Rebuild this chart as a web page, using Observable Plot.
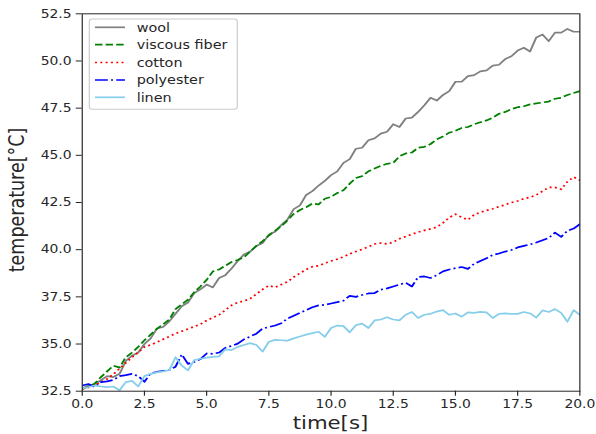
<!DOCTYPE html>
<html><head><meta charset="utf-8">
<script src="https://cdn.jsdelivr.net/npm/d3@7"></script>
<script src="https://cdn.jsdelivr.net/npm/@observablehq/plot@0.6"></script>
<style>html,body{margin:0;padding:0;background:#fff;} #chart{width:596px;height:434px;overflow:hidden}</style>
</head><body><div id="chart"></div>
<script>
// time in seconds
const time = [
 0,0.25,0.5,0.75, 1,1.25,1.5,1.75, 2,2.25,2.5,2.75, 3,3.25,3.5,3.75, 4,4.25,4.5,4.75,
 5,5.25,5.5,5.75, 6,6.25,6.5,6.75, 7,7.25,7.5,7.75, 8,8.25,8.5,8.75, 9,9.25,9.5,9.75,
 10,10.25,10.5,10.75, 11,11.25,11.5,11.75, 12,12.25,12.5,12.75, 13,13.25,13.5,13.75, 14,14.25,14.5,14.75,
 15,15.25,15.5,15.75, 16,16.25,16.5,16.75, 17,17.25,17.5,17.75, 18,18.25,18.5,18.75, 19,19.25,19.5,19.75, 20];

const wool = [
 32.65,32.80,32.88,33.08, 33.30,33.25,33.42,34.10, 34.38,34.55,35.00,35.30, 35.82,35.90,36.20,36.60,
 37.00,37.20,37.70,37.90, 38.15,38.00,38.50,38.65, 39.00,39.40,39.75,39.90, 40.20,40.35,40.80,40.95,
 41.30,41.60,42.15,42.35, 42.90,43.10,43.40,43.65, 43.95,44.15,44.60,44.80, 45.35,45.40,45.80,45.90,
 46.15,46.25,46.65,46.50, 46.95,47.00,47.30,47.65, 48.05,47.90,48.20,48.40, 48.90,48.90,49.20,49.25,
 49.45,49.50,49.75,49.80, 50.10,50.25,50.55,50.70, 50.50,51.25,51.40,51.05, 51.50,51.50,51.70,51.55, 51.55];

const viscousFiber = [
 32.62,32.75,32.90,33.25, 33.55,33.85,33.75,34.30, 34.55,34.85,35.20,35.50, 35.80,36.05,36.30,36.85,
 37.10,37.35,37.75,38.05, 38.40,38.85,38.95,39.15, 39.35,39.45,39.60,39.90, 40.20,40.45,40.75,41.00,
 41.25,41.55,41.90,42.10, 42.25,42.45,42.40,42.70, 42.80,43.00,43.15,43.50, 43.80,43.90,44.15,44.30,
 44.45,44.55,44.60,44.95, 45.10,45.15,45.40,45.45, 45.60,45.85,46.00,46.20, 46.30,46.45,46.50,46.65,
 46.75,46.85,47.00,47.20, 47.30,47.45,47.55,47.60, 47.70,47.75,47.80,47.85, 48.00,48.05,48.20,48.30, 48.40];

const cotton = [
 32.62,32.70,32.80,32.98, 33.15,33.40,33.70,34.00, 34.30,34.55,34.85,34.95, 35.10,35.25,35.40,35.55,
 35.68,35.80,35.92,36.05, 36.25,36.40,36.55,36.80, 37.05,37.20,37.28,37.40, 37.65,37.90,38.10,38.00,
 38.15,38.30,38.55,38.75, 38.95,39.10,39.15,39.28, 39.40,39.50,39.62,39.78, 39.90,40.02,40.15,40.30,
 40.35,40.30,40.40,40.58, 40.70,40.82,40.93,41.02, 41.10,41.20,41.42,41.70, 41.88,41.72,41.58,41.85,
 41.98,42.08,42.17,42.28, 42.38,42.50,42.58,42.70, 42.78,42.90,43.10,43.30, 43.30,43.20,43.60,43.85, 43.68];

const polyester = [
 32.80,32.88,32.72,32.98, 33.02,33.10,33.30,33.35, 33.42,33.30,33.00,33.45, 33.52,33.58,33.62,33.80,
 34.45,33.95,34.05,34.20, 34.50,34.48,34.55,34.80, 34.90,35.02,35.25,35.40, 35.55,35.82,35.90,35.98,
 36.10,36.35,36.50,36.65, 36.80,36.95,37.05,37.08, 37.15,37.22,37.30,37.55, 37.50,37.60,37.68,37.70,
 37.88,37.95,38.05,38.15, 38.25,38.05,38.55,38.58, 38.50,38.65,38.85,38.95, 39.02,39.08,38.98,39.25,
 39.40,39.55,39.72,39.80, 39.90,39.98,40.12,40.20, 40.28,40.38,40.50,40.62, 40.90,40.68,41.00,41.12, 41.35];

const linen = [
 32.65,32.72,32.80,32.75, 32.72,32.75,32.55,32.98, 33.05,32.75,33.30,33.42, 33.50,33.55,33.62,34.30,
 33.85,33.60,34.15,34.22, 34.28,34.32,34.35,34.72, 34.68,34.85,34.95,35.05, 34.95,34.60,35.12,35.22,
 35.20,35.18,35.30,35.40, 35.50,35.58,35.65,35.38, 35.85,35.98,35.95,35.62, 36.00,36.08,35.85,36.25,
 36.30,36.42,36.30,36.25, 36.55,36.70,36.38,36.55, 36.60,36.72,36.80,36.55, 36.62,36.45,36.68,36.65,
 36.70,36.68,36.38,36.60, 36.62,36.60,36.60,36.70, 36.62,36.40,36.78,36.70, 36.85,36.65,36.18,36.80, 36.55];

const seriesNames = ["wool", "viscous fiber", "cotton", "polyester", "linen"];
const seriesValues = [wool, viscousFiber, cotton, polyester, linen];
const seriesColors = ["#808080", "#008000", "#ff0000", "#0000ff", "#87ceeb"];
const seriesDash = [undefined, "6.3,2.7", "1.7,2.8", "10.9,2.7,1.7,2.7", undefined];

const xTicks = [0, 2.5, 5, 7.5, 10, 12.5, 15, 17.5, 20];
const yTicks = [32.5, 35, 37.5, 40, 42.5, 45, 47.5, 50, 52.5];

// The reference image is stretched horizontally; draw in an unstretched frame then stretch.
const S = 1.18;
const W = 596 / S, H = 434;
const L = 69.2, R = 490.9, T0 = 13.3, B0 = 390.7;

const rows = [];
seriesValues.forEach((vals, i) => vals.forEach((v, j) => rows.push({t: time[j], temp: v, s: seriesNames[i]})));

const fmt = d3.format(".1f");
const chart = Plot.plot({
  width: W, height: H,
  marginLeft: L, marginRight: W - R, marginTop: T0, marginBottom: H - B0,
  x: {domain: [0, 20]},
  y: {domain: [32.5, 52.5]},
  style: {fontFamily: "DejaVu Sans", fontSize: "11.8px", color: "#262626", background: "white"},
  marks: [
    ...seriesNames.map((name, i) => Plot.line(rows.filter(d => d.s === name), {
      x: "t", y: "temp", stroke: seriesColors[i], strokeWidth: 1.7,
      strokeDasharray: seriesDash[i], strokeLinecap: "butt", strokeLinejoin: "round"
    })),
    Plot.axisX({ticks: xTicks, tickFormat: fmt, tickSize: 5, tickPadding: 3, label: null}),
    Plot.axisY({ticks: yTicks, tickFormat: fmt, tickSize: 5, tickPadding: 4, label: null}),
    Plot.frame({stroke: "#262626", strokeWidth: 1})
  ]
});

chart.setAttribute("viewBox", `0 0 ${W} ${H}`);
chart.setAttribute("preserveAspectRatio", "none");
chart.setAttribute("width", 596);
chart.setAttribute("height", 434);
chart.style.width = "596px";
chart.style.height = "434px";
chart.style.maxWidth = "none";

const svg = d3.select(chart);
// axis labels
svg.append("text").attr("x", (L + R) / 2).attr("y", 429).attr("text-anchor", "middle")
  .attr("font-family", "DejaVu Sans").attr("font-size", 18).attr("fill", "#262626").text("time[s]");
svg.append("text").attr("transform", `translate(20,200) rotate(-90)`).attr("text-anchor", "middle")
  .attr("font-family", "DejaVu Sans").attr("font-size", 17.5).attr("fill", "#262626").text("temperature[°C]");

// legend
const lg = svg.append("g");
lg.append("rect").attr("x", 75.7).attr("y", 19).attr("width", 125.4).attr("height", 90.3)
  .attr("rx", 2.5).attr("fill", "white").attr("fill-opacity", 0.8).attr("stroke", "#cccccc").attr("stroke-width", 1);
const rowY = [27.3, 44.7, 62.5, 80, 97.3];
seriesNames.forEach((name, i) => {
  lg.append("line").attr("x1", 80.5).attr("x2", 105.9).attr("y1", rowY[i]).attr("y2", rowY[i])
    .attr("stroke", seriesColors[i]).attr("stroke-width", 1.7)
    .attr("stroke-dasharray", seriesDash[i] || null).attr("stroke-linecap", "butt");
  lg.append("text").attr("x", 115.8).attr("y", rowY[i]).attr("dy", "0.36em").attr("text-anchor", "start")
    .attr("font-family", "DejaVu Sans").attr("font-size", 12.2).attr("fill", "#262626").text(name);
});

document.getElementById("chart").appendChild(chart);
</script>
</body></html>
